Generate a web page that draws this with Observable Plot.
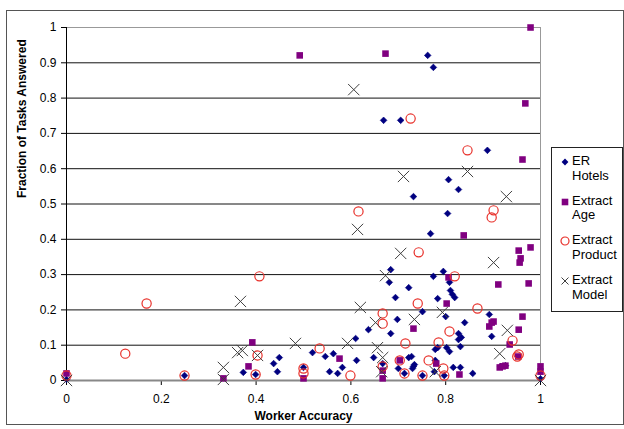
<!DOCTYPE html>
<html><head><meta charset="utf-8">
<script src="https://cdn.jsdelivr.net/npm/d3@7"></script>
<script src="https://cdn.jsdelivr.net/npm/@observablehq/plot@0.6"></script>
<style>
body{margin:0;background:#fff;}
#wrap{position:relative;width:624px;height:429px;font-family:"Liberation Sans",Arial,sans-serif;overflow:hidden;}
#frame{position:absolute;left:6px;top:10px;width:618px;height:415px;border:1px solid #555;box-sizing:border-box;pointer-events:none;}
#chart{position:absolute;left:0;top:0;}
#legend{position:absolute;left:551px;top:147px;width:72px;height:165px;border:1px solid #222;box-sizing:border-box;background:#fff;font-size:13px;color:#000;}
.entry{position:absolute;left:0;width:70px;line-height:14.5px;}
.entry svg{position:absolute;left:7px;top:2px;}
.entry .t{position:absolute;left:20px;top:0;white-space:nowrap;}
</style></head>
<body>
<div id="wrap"><div id="chart"></div><div id="frame"></div><div id="legend"></div></div>
<script>
const seriesNames = ["ER Hotels", "Extract Age", "Extract Product", "Extract Model"];
const xTicks = [0, 0.2, 0.4, 0.6, 0.8, 1];
const yTicks = [0, 0.1, 0.2, 0.3, 0.4, 0.5, 0.6, 0.7, 0.8, 0.9, 1];

const erHotels = [
[0.762,0.921],[0.774,0.887],[0.669,0.737],[0.705,0.737],[0.888,0.652],[0.806,0.569],[0.827,0.541],[0.732,0.521],[0.804,0.473],[0.768,0.416],
[0.684,0.314],[0.681,0.278],[0.694,0.235],[0.722,0.263],[0.774,0.295],[0.795,0.309],[0.808,0.278],[0.810,0.255],[0.814,0.244],[0.819,0.235],
[0.783,0.232],[0.751,0.195],[0.800,0.181],[0.892,0.187],[0.840,0.164],[0.827,0.133],[0.833,0.122],[0.897,0.125],[0.827,0.116],[0.698,0.173],
[0.637,0.144],[0.684,0.133],[0.610,0.119],[0.783,0.093],[0.778,0.088],[0.802,0.093],[0.808,0.082],[0.831,0.096],[0.728,0.068],[0.778,0.057],
[0.732,0.040],[0.734,0.045],[0.730,0.034],[0.816,0.037],[0.831,0.037],[0.857,0.020],[0.797,0.014],[0.776,0.025],[0.713,0.020],[0.751,0.014],
[0.519,0.079],[0.546,0.068],[0.563,0.076],[0.449,0.065],[0.437,0.048],[0.445,0.025],[0.582,0.037],[0.555,0.025],[0.572,0.020],[0.612,0.057],
[0.500,0.037],[0.399,0.017],[0.373,0.023],[0.249,0.014],[0.667,0.048],[0.700,0.034],[0.722,0.065],[0.648,0.065],[0.916,0.040],[0.926,0.042],
[1.0,0.005],[0,0.003]
];
const extractAge = [
[0.979,1.0],[0.492,0.921],[0.673,0.926],[0.968,0.785],[0.962,0.626],[0.838,0.411],[0.954,0.368],[0.979,0.377],[0.958,0.346],[0.956,0.334],
[0.806,0.292],[0.911,0.272],[0.975,0.275],[0.802,0.218],[0.897,0.164],[0.901,0.167],[0.892,0.153],[0.962,0.181],[0.954,0.144],[0.935,0.102],
[0.732,0.147],[0.392,0.108],[0.576,0.062],[0.384,0.040],[0.331,0.006],[0.500,0.006],[0.667,0.006],[0.667,0.028],[0.703,0.057],[0.780,0.048],
[0.829,0.017],[0.914,0.037],[0.920,0.040],[0.926,0.042],[1.0,0.040],[1.0,0.025],[0,0.020],[0.953,0.068]
];
const extractProduct = [
[0.726,0.742],[0.846,0.652],[0.616,0.479],[0.901,0.482],[0.897,0.462],[0.407,0.295],[0.743,0.363],[0.819,0.295],[0.169,0.218],[0.741,0.218],
[0.867,0.204],[0.667,0.190],[0.667,0.161],[0.808,0.139],[0.941,0.113],[0.715,0.105],[0.785,0.108],[0.534,0.091],[0.124,0.076],[0.403,0.071],
[0.954,0.074],[0.951,0.068],[0.764,0.057],[0.703,0.057],[0.795,0.034],[0.797,0.014],[0.713,0.020],[0.751,0.014],[0.599,0.014],[0.500,0.034],
[0.500,0.020],[0.667,0.040],[0.399,0.017],[0.249,0.014],[0,0.014],[1.0,0.014]
];
const extractModel = [
[0.606,0.824],[0.846,0.592],[0.711,0.578],[0.928,0.521],[0.614,0.428],[0.705,0.360],[0.901,0.334],[0.673,0.297],[0.367,0.224],[0.620,0.207],
[0.793,0.193],[0.734,0.173],[0.652,0.164],[0.930,0.142],[0.483,0.105],[0.593,0.105],[0.656,0.093],[0.361,0.079],[0.371,0.085],[0.403,0.071],
[0.914,0.076],[0.667,0.065],[0.331,0.037],[0.778,0.025],[0.665,0.025],[0.331,0.003],[1.0,0.0],[0,0.0]
];

const colors = ["#000080", "#800080", "#e8302a", "#404040"];

const chart = Plot.plot({
  width: 624, height: 429,
  marginLeft: 66, marginRight: 84, marginTop: 27, marginBottom: 49,
  x: {domain: [0, 1]},
  y: {domain: [0, 1]},
  style: {fontFamily: "'Liberation Sans', Arial, sans-serif", fontSize: "12px", color: "#000", background: "transparent", overflow: "visible"},
  marks: [
    Plot.ruleY(yTicks.filter(d => d > 0 && d < 1), {stroke: "#111", strokeWidth: 1}),
    Plot.ruleY([1], {stroke: "#999"}),
    Plot.ruleX([1], {stroke: "#999"}),
    Plot.axisY({ticks: yTicks, tickSize: 5, tickPadding: 5, tickFormat: d => String(d), label: null, fontSize: 12}),
    Plot.axisX({ticks: xTicks, tickSize: 5, tickPadding: 9, tickFormat: d => String(d), label: null, fontSize: 12}),
    Plot.ruleY([0], {stroke: "#888", strokeWidth: 2}),
    Plot.ruleX([0], {stroke: "#000"}),
    Plot.dot(erHotels, {x: d => d[0], y: d => d[1], symbol: "diamond2", r: 3, fill: colors[0], stroke: colors[0], strokeWidth: 0.6}),
    Plot.dot(extractAge, {x: d => d[0], y: d => d[1], symbol: "square", r: 3.7, fill: colors[1], stroke: "none"}),
    Plot.dot(extractProduct, {x: d => d[0], y: d => d[1], symbol: "circle", r: 4.6, fill: "none", stroke: colors[2], strokeWidth: 1.2}),
    Plot.dot(extractModel, {x: d => d[0], y: d => d[1], symbol: "times", r: 5.2, fill: "none", stroke: colors[3], strokeWidth: 1}),
    Plot.text(["Worker Accuracy"], {frameAnchor: "bottom", dy: 39, fontWeight: "bold", fontSize: 12}),
    Plot.text(["Fraction of Tasks Answered"], {frameAnchor: "left", dx: -44, dy: -6, rotate: -90, fontWeight: "bold", fontSize: 12})
  ]
});
document.getElementById("chart").appendChild(chart);

// legend
const legend = document.getElementById("legend");
const markerSvgs = [
  `<svg width="12" height="12"><path d="M6,2.6L9.4,6L6,9.4L2.6,6Z" fill="${colors[0]}"/></svg>`,
  `<svg width="12" height="12"><rect x="2.7" y="2.7" width="6.6" height="6.6" fill="${colors[1]}"/></svg>`,
  `<svg width="12" height="12"><circle cx="6" cy="6" r="4" fill="none" stroke="${colors[2]}" stroke-width="1.2"/></svg>`,
  `<svg width="12" height="12"><path d="M2.5,2.5L9.5,9.5M9.5,2.5L2.5,9.5" stroke="${colors[3]}" stroke-width="1"/></svg>`
];
seriesNames.forEach((name, i) => {
  const e = document.createElement("div");
  e.className = "entry";
  e.style.top = (6 + i * 39.7) + "px";
  const parts = name.split(" ");
  e.innerHTML = markerSvgs[i] + `<div class="t">${parts[0]}<br>${parts.slice(1).join(" ")}</div>`;
  legend.appendChild(e);
});
</script>
</body></html>
